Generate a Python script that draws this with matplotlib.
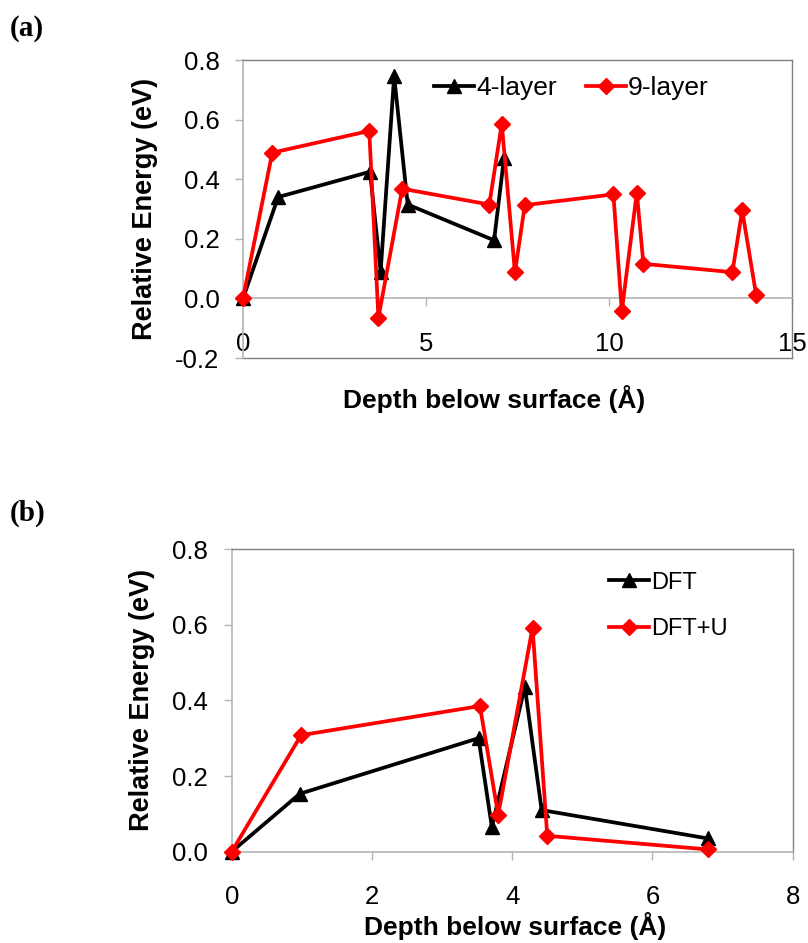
import matplotlib
matplotlib.use("Agg")
import matplotlib.pyplot as plt

plt.rcParams['font.family'] = ['Liberation Sans', 'DejaVu Sans']

# (a) 4-layer vs 9-layer slab
x4 = [0.0, 0.96, 3.47, 3.76, 4.13, 4.5, 6.86, 7.13]
y4 = [0.0, 0.34, 0.425, 0.09, 0.745, 0.315, 0.195, 0.47]
x9 = [0.0, 0.8, 3.45, 3.7, 4.35, 6.73, 7.07, 7.43, 7.7, 10.12, 10.35, 10.76, 10.94, 13.37, 13.64, 14.02]
y9 = [0.0, 0.489, 0.562, -0.065, 0.368, 0.315, 0.586, 0.087, 0.313, 0.349, -0.042, 0.355, 0.116, 0.088, 0.295, 0.012]

# (b) DFT vs DFT+U
xd = [0.0, 0.97, 3.52, 3.71, 4.18, 4.42, 6.79]
yd = [0.0, 0.153, 0.30, 0.065, 0.436, 0.11, 0.035]
xu = [0.0, 0.99, 3.54, 3.8, 4.29, 4.5, 6.79]
yu = [0.0, 0.308, 0.385, 0.097, 0.592, 0.042, 0.006]

light = '#b4b4b4'
dark = '#808080'
red = '#ff0000'

fig = plt.figure(figsize=(8.08, 9.43), dpi=100)


def style(ax):
    for s in ['top', 'right']:
        ax.spines[s].set_color(dark)
        ax.spines[s].set_linewidth(1.0)
    for s in ['left', 'bottom']:
        ax.spines[s].set_color(light)
        ax.spines[s].set_linewidth(1.2)
    ax.tick_params(axis='both', direction='out', length=6, width=1, color=light,
                   labelsize=18.5)
    ax.tick_params(axis='y', pad=11)
    ax.tick_params(axis='x', pad=18)
    ax.set_ylabel('Relative Energy (eV)', fontsize=19.5, fontweight='bold')
    ax.set_xlabel('Depth below surface (Å)', fontsize=19, fontweight='bold')


# ---- panel (a)
ax1 = fig.add_axes([243 / 808, 1 - 358 / 943, 549 / 808, 298 / 943])
ax1.plot(x4, y4, color='black', lw=2.7, marker='^', ms=9.5, label='4-layer', clip_on=False, zorder=3)
ax1.plot(x9, y9, color=red, lw=2.7, marker='D', ms=8, label='9-layer', clip_on=False, zorder=4)
ax1.set_xlim(0, 15)
ax1.set_ylim(-0.2, 0.8)
ax1.set_xticks([0, 5, 10, 15])
ax1.set_yticks([-0.2, 0.0, 0.2, 0.4, 0.6, 0.8])
ax1.set_yticklabels(['-0.2', '0.0', '0.2', '0.4', '0.6', '0.8'])
style(ax1)
ax1.spines['bottom'].set_position(('data', 0))
ax1.plot([0, 1], [0, 0], transform=ax1.transAxes, color=dark, lw=1.0, clip_on=False)
ax1.xaxis.set_label_coords(0.457, -0.09)
ax1.yaxis.set_label_coords(-0.178, 0.5)
ax1.yaxis.label.set_va('center')
ax1.legend(loc='center left', bbox_to_anchor=(0.348, 0.906), ncol=2, frameon=False,
           fontsize=19, handlelength=1.5, handletextpad=0.1, columnspacing=1.1,
           borderpad=0, borderaxespad=0)
fig.text(10 / 808, 1 - 28 / 943, '(a)', fontsize=21, fontweight='bold',
         family='Liberation Serif', va='center')

# ---- panel (b)
ax2 = fig.add_axes([231.7 / 808, 1 - 851.7 / 943, 561 / 808, 302.7 / 943])
ax2.plot(xd, yd, color='black', lw=2.7, marker='^', ms=9.5, label='DFT', clip_on=False, zorder=3)
ax2.plot(xu, yu, color=red, lw=2.7, marker='D', ms=8, label='DFT+U', clip_on=False, zorder=4)
ax2.set_xlim(0, 8)
ax2.set_ylim(0, 0.8)
ax2.set_xticks([0, 2, 4, 6, 8])
ax2.set_yticks([0.0, 0.2, 0.4, 0.6, 0.8])
ax2.set_yticklabels(['0.0', '0.2', '0.4', '0.6', '0.8'])
style(ax2)
ax2.xaxis.set_label_coords(0.505, -0.20)
ax2.yaxis.set_label_coords(-0.160, 0.5)
ax2.yaxis.label.set_va('center')
ax2.legend(loc='center left', bbox_to_anchor=(0.672, 0.812), frameon=False,
           fontsize=17, handlelength=1.7, handletextpad=0.1, labelspacing=1.05,
           borderpad=0, borderaxespad=0)
fig.text(10 / 808, 1 - 513 / 943, '(b)', fontsize=21, fontweight='bold',
         family='Liberation Serif', va='center')

fig.savefig('out.png', dpi=100)
